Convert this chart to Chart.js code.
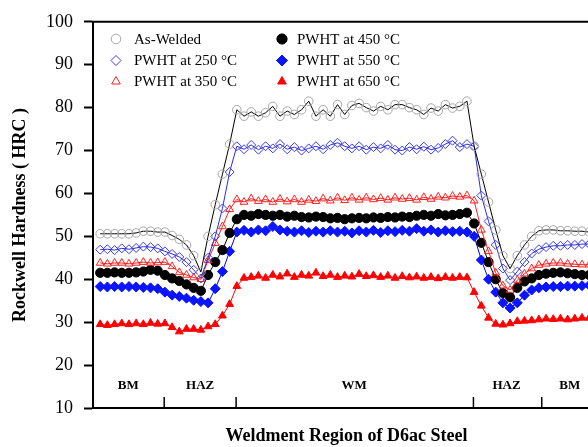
<!DOCTYPE html>
<html>
<head>
<meta charset="utf-8">
<script src="https://cdn.jsdelivr.net/npm/chart.js@4"></script>
<style>
  html, body { margin: 0; padding: 0; background: #fff; overflow: hidden; }
  #wrap { width: 640px; height: 447px; }
</style>
</head>
<body>
<div id="wrap"><canvas id="hardness" width="640" height="447"></canvas></div>
<script>
// hardness traverse, one value per indentation (left BM -> HAZ -> WM -> HAZ -> right BM)
const asWelded = [
  50.6, 50.6, 50.6, 50.6, 50.6, 50.8, 51.2, 51.2, 51.0,
  51.0, 50.2, 49.3, 48.0, 45.5, 41.7, 50.0, 57.4, 64.5, 71.5,
  79.5, 78.0, 79.0, 78.0, 78.8, 80.3, 78.0, 79.2, 78.4, 79.5, 81.5, 78.0, 79.5, 78.0, 80.7, 78.4, 80.5,
  81.0, 80.0, 79.2, 80.3, 79.5, 80.7, 80.7, 80.0, 79.5, 78.4, 79.9, 79.2, 80.7, 79.9, 80.3, 81.5,
  71.0, 64.5, 58.0, 51.5, 45.5, 42.5, 45.5, 48.0, 50.0,
  51.3, 51.5, 51.5, 51.3, 51.3, 51.2, 51.2, 51.0, 51.0, 51.0
];
const pwht250 = [
  46.9, 47.0, 46.8, 47.2, 47.0, 47.3, 47.6, 47.5, 47.2,
  46.5, 45.9, 45.2, 44.0, 42.2, 40.2, 45.0, 50.0, 56.5, 65.0,
  71.0, 70.3, 71.3, 70.2, 71.0, 70.5, 71.5, 70.3, 70.8, 70.0, 70.5, 71.0, 70.3, 71.3, 71.8, 71.0, 70.5,
  71.0, 70.2, 70.8, 70.5, 71.3, 70.2, 70.0, 70.8, 70.3, 70.9, 70.2, 70.6, 71.5, 72.3, 70.8, 71.5,
  71.0, 59.5, 53.5, 48.0, 42.5, 39.8, 41.8, 44.0, 46.0,
  47.0, 47.5, 47.8, 47.8, 48.0, 48.0, 48.2, 48.2, 48.4, 48.5
];
const pwht350 = [
  43.8, 43.6, 43.8, 43.8, 43.6, 43.8, 44.0, 43.8, 43.9,
  44.0, 43.0, 41.6, 41.0, 40.4, 40.0, 44.4, 48.4, 52.3, 56.3,
  58.6, 58.0, 58.8, 58.2, 58.6, 58.0, 58.7, 58.1, 58.6, 58.0, 58.5, 58.2, 58.8, 58.3, 59.0, 58.4, 59.0,
  58.5, 59.0, 58.6, 58.9, 58.5, 59.0, 58.7, 58.9, 58.5, 59.1, 58.7, 59.2, 59.0, 59.4, 59.2, 59.5,
  58.3, 51.5, 46.5, 41.5, 38.5, 37.5, 39.8, 41.3, 42.5,
  43.3, 43.6, 43.8, 43.8, 43.6, 43.5, 43.4, 43.4, 43.5, 43.4
];
const pwht450 = [
  41.5, 41.5, 41.6, 41.5, 41.5, 41.6, 41.8, 42.2, 42.0,
  41.0, 40.2, 39.6, 38.8, 38.0, 37.3, 41.0, 44.0, 46.8, 50.8,
  54.0, 55.0, 54.8, 55.2, 55.0, 54.8, 55.0, 54.6, 54.8, 54.5, 54.4, 54.6, 54.5, 54.2, 54.3, 54.0, 54.2,
  54.3, 54.2, 54.4, 54.3, 54.5, 54.4, 54.6, 54.5, 54.8, 55.0, 54.8, 55.2, 54.9, 55.0, 55.2, 55.5,
  53.0, 48.5, 44.0, 40.0, 36.8, 35.8, 38.0, 39.5, 40.2,
  41.0, 41.3, 41.5, 41.6, 41.4, 41.2, 41.0, 41.0, 40.8, 40.7
];
const pwht550 = [
  38.3, 38.2, 38.3, 38.2, 38.3, 38.2, 38.1, 38.0, 37.8,
  37.0, 36.3, 36.0, 35.6, 35.1, 34.8, 34.5, 37.8, 41.8, 46.5,
  51.0, 51.4, 51.0, 51.5, 51.3, 52.3, 51.5, 51.2, 51.0, 51.3, 50.9, 51.2, 51.0, 51.3, 51.0, 51.2, 50.8,
  51.3, 51.0, 51.4, 50.9, 51.3, 51.1, 51.4, 51.2, 51.8, 51.2, 51.5, 51.0, 51.3, 51.1, 51.2, 51.0,
  50.0, 44.5, 40.0, 37.0, 34.5, 33.3, 34.5, 36.3, 37.5,
  38.0, 38.2, 38.3, 38.3, 38.4, 38.4, 38.5, 38.6, 38.7, 38.8
];
const pwht650 = [
  29.5, 29.3, 29.5, 29.7, 29.5, 29.7, 29.5, 29.8, 29.6,
  29.7, 28.8, 27.8, 28.4, 28.4, 28.2, 29.0, 29.5, 31.5, 34.2,
  38.4, 40.3, 40.5, 40.8, 40.3, 41.0, 40.6, 41.3, 40.5, 41.0, 40.8, 41.5, 40.7, 41.0, 40.5, 40.8, 40.6,
  41.2, 40.7, 40.9, 40.5, 40.8, 40.3, 40.7, 40.4, 40.6, 40.3, 40.5, 40.2, 40.5, 40.3, 40.5, 40.4,
  37.0, 33.8, 31.0, 29.6, 29.4, 29.7, 30.2, 30.3, 30.4,
  30.6, 30.8, 30.7, 30.8, 30.6, 30.8, 31.0, 31.0, 31.1, 31.2
];

const regionNames = ["BM", "HAZ", "WM", "HAZ", "BM"];
const regionCenters = [3.9, 13.9, 35.3, 56.5, 65.3];
const regionBounds = [8.9, 18.9, 51.9, 61.4];
const yTicks = [10, 20, 30, 40, 50, 60, 70, 80, 90, 100];

const serif = "'Liberation Serif', 'Times New Roman', serif";

function toPoints(values) {
  return values.map((v, i) => ({ x: i, y: v }));
}

function series(label, values, style) {
  return Object.assign({
    label: label,
    data: toPoints(values),
    borderWidth: 1,
    tension: 0,
    pointBorderWidth: 1
  }, style);
}

const datasets = [
  series("As-Welded", asWelded, { borderColor: "#000", pointStyle: "circle", pointRadius: 4.3,
    pointBorderColor: "#a6a6a6", pointBackgroundColor: "rgba(255,255,255,0)", col: 0, row: 0 }),
  series("PWHT at 250 \u00B0C", pwht250, { borderColor: "#2c2ce0", pointStyle: "rectRot", pointRadius: 4.5,
    pointBorderColor: "#3a3ae6", pointBackgroundColor: "rgba(255,255,255,0)", col: 0, row: 1 }),
  series("PWHT at 350 \u00B0C", pwht350, { borderColor: "#ff1a1a", pointStyle: "triangle", pointRadius: 4.5,
    pointBorderColor: "#ff2020", pointBackgroundColor: "rgba(255,255,255,0)", col: 0, row: 2 }),
  series("PWHT at 450 \u00B0C", pwht450, { borderColor: "#000", pointStyle: "circle", pointRadius: 4.6,
    pointBorderColor: "#000", pointBackgroundColor: "#000", col: 1, row: 0 }),
  series("PWHT at 550 \u00B0C", pwht550, { borderColor: "#0000ff", pointStyle: "rectRot", pointRadius: 5,
    pointBorderColor: "#0a14ff", pointBackgroundColor: "#0a14ff", col: 1, row: 1 }),
  series("PWHT at 650 \u00B0C", pwht650, { borderColor: "#ff0000", pointStyle: "triangle", pointRadius: 4.5,
    pointBorderColor: "#ff0000", pointBackgroundColor: "#ff0000", col: 1, row: 2 })
];

// top frame line, weld region markers and the inset legend
const decorPlugin = {
  id: "decor",
  afterDraw(chart) {
    const { ctx, chartArea, scales } = chart;
    ctx.save();
    ctx.strokeStyle = "#000";
    ctx.lineWidth = 2;
    ctx.beginPath();
    ctx.moveTo(chartArea.left - 1, chartArea.top);
    ctx.lineTo(chartArea.right, chartArea.top);
    ctx.stroke();

    ctx.lineWidth = 1.5;
    regionBounds.forEach(b => {
      const x = scales.x.getPixelForValue(b);
      ctx.beginPath();
      ctx.moveTo(x, chartArea.bottom);
      ctx.lineTo(x, chartArea.bottom - 11);
      ctx.stroke();
    });

    ctx.fillStyle = "#000";
    ctx.font = "bold 13px " + serif;
    ctx.textAlign = "center";
    ctx.textBaseline = "middle";
    regionNames.forEach((name, k) => {
      ctx.fillText(name, scales.x.getPixelForValue(regionCenters[k]), chartArea.bottom - 22);
    });

    const markerX = [116, 282];
    const textX = [134, 297];
    const rowY = [39, 60.5, 81.5];
    ctx.font = "15px " + serif;
    ctx.textAlign = "left";
    chart.data.datasets.forEach(ds => {
      const x = markerX[ds.col];
      const y = rowY[ds.row];
      ctx.fillStyle = ds.pointBackgroundColor;
      ctx.strokeStyle = ds.pointBorderColor;
      ctx.lineWidth = 1;
      Chart.helpers.drawPoint(ctx, { pointStyle: ds.pointStyle, radius: ds.pointRadius + 0.5, rotation: 0, borderWidth: 1 }, x, y);
      ctx.fillStyle = "#000";
      ctx.fillText(ds.label, textX[ds.col], y + 1);
    });
    ctx.restore();
  }
};

new Chart(document.getElementById("hardness"), {
  type: "line",
  data: { datasets: datasets },
  plugins: [decorPlugin],
  options: {
    responsive: false,
    animation: false,
    devicePixelRatio: 1,
    layout: { padding: { top: 18, right: 40, left: 0, bottom: 0 } },
    plugins: { legend: { display: false }, tooltip: { enabled: false } },
    scales: {
      x: {
        type: "linear",
        min: -1,
        max: 69.5,
        afterFit(s) { s.height = 39; },
        ticks: { display: false },
        grid: { display: false },
        border: { color: "#000", width: 2 },
        title: {
          display: true,
          text: "Weldment Region of D6ac Steel",
          color: "#000",
          font: { family: serif, size: 18, weight: "bold" },
          padding: { top: 0, bottom: 0 }
        }
      },
      y: {
        min: 10,
        max: 100,
        afterFit(s) { s.width = 93; },
        ticks: {
          stepSize: 5,
          padding: 11,
          color: "#000",
          font: { family: serif, size: 18 },
          callback: v => yTicks.includes(v) ? v : ""
        },
        grid: { drawOnChartArea: false, tickLength: 9, tickWidth: 2, tickColor: "#000" },
        border: { color: "#000", width: 2 },
        title: {
          display: true,
          text: "Rockwell Hardness ( HRC )",
          color: "#000",
          font: { family: serif, size: 18, weight: "bold" },
          padding: { top: 10, bottom: 0 }
        }
      }
    }
  }
});
</script>
</body>
</html>
